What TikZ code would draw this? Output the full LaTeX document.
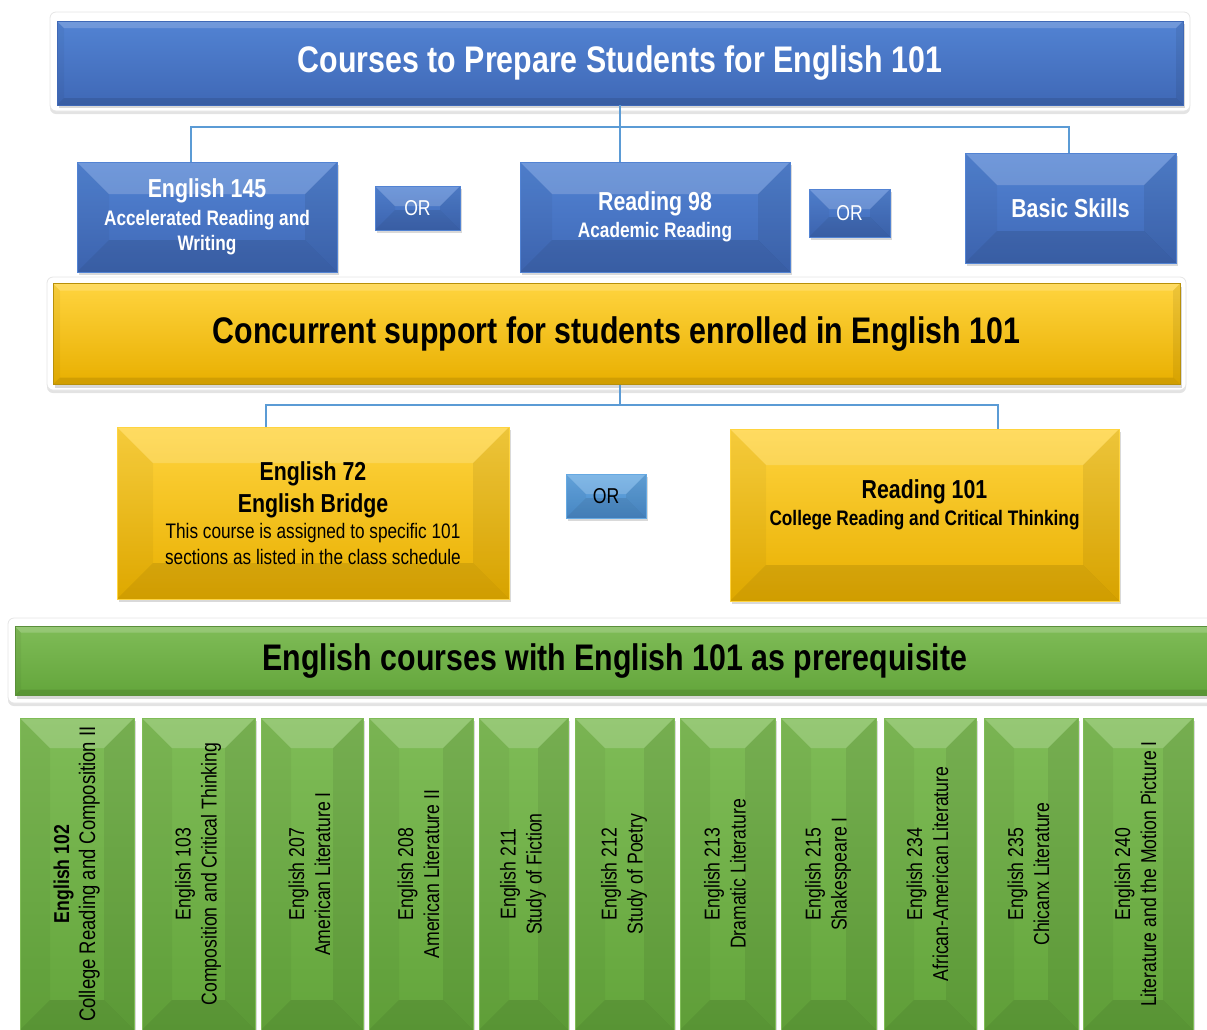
\documentclass[tikz,border=0pt]{standalone}
\usepackage{fontspec}
\setmainfont[FakeStretch=0.82]{Liberation Sans}
\usetikzlibrary{shadows}

\definecolor{skyline}{HTML}{5B9BD5}
\definecolor{blueA}{HTML}{5283D3}
\definecolor{blueB}{HTML}{3F68B6}
\definecolor{orA}{HTML}{66A9E2}
\definecolor{orB}{HTML}{4A8BCB}
\definecolor{goldA}{HTML}{FFD43F}
\definecolor{goldB}{HTML}{E8AF00}
\definecolor{goldedge}{HTML}{B8900A}
\definecolor{leafA}{HTML}{7FBC57}
\definecolor{leafB}{HTML}{63A53B}
\definecolor{leafedge}{HTML}{5A8F3A}

\newcommand{\headfont}{\fontsize{37}{42}\selectfont\bfseries}
\newcommand{\namefont}{\fontsize{26}{30}\selectfont\bfseries}
\newcommand{\subfont}{\fontsize{21}{25}\selectfont}
\newcommand{\orfont}{\fontsize{21.5}{25}\selectfont}
\newcommand{\vfont}{\fontsize{21.5}{26}\selectfont}

\begin{document}
\begin{tikzpicture}[x=1pt, y=1pt, thick]
    \tikzset{bevel/.style={path picture={
      \path (path picture bounding box.north west) coordinate (bnw)
            (path picture bounding box.north east) coordinate (bne)
            (path picture bounding box.south west) coordinate (bsw)
            (path picture bounding box.south east) coordinate (bse);
      \fill[white, opacity=.18] (bnw) -- (bne) -- ([shift={(-#1,-#1)}]bne) -- ([shift={(#1,-#1)}]bnw) -- cycle;
      \fill[black, opacity=.1] (bsw) -- (bse) -- ([shift={(-#1,#1)}]bse) -- ([shift={(#1,#1)}]bsw) -- cycle;
      \fill[black, opacity=.04] (bnw) -- (bsw) -- ([shift={(#1,#1)}]bsw) -- ([shift={(#1,-#1)}]bnw) -- cycle;
      \fill[black, opacity=.07] (bne) -- (bse) -- ([shift={(-#1,#1)}]bse) -- ([shift={(-#1,-#1)}]bne) -- cycle;
    }}}
    \tikzstyle{frame}=[rectangle, rounded corners=6pt, fill=white, draw=gray!20,
                       drop shadow={opacity=.22, shadow xshift=0pt, shadow yshift=-3pt}]
    \tikzstyle{box}=[rectangle, inner sep=0pt, align=center, line width=.6pt, font=\subfont,
                     drop shadow={opacity=.3, shadow xshift=2pt, shadow yshift=-3pt}]
    \tikzstyle{bluebox}=[box, draw=blueA, top color=blueA, bottom color=blueB, text=white, bevel=32]
    \tikzstyle{orbox}=[box, draw=blueA, top color=blueA, bottom color=blueB, text=white, bevel=20]
    \tikzstyle{goldbox}=[box, draw=goldA, top color=goldA, bottom color=goldB, text=black, bevel=36]
    \tikzstyle{leafbox}=[box, draw=leafA, top color=leafA, bottom color=leafB, text=black, bevel=30]
    \tikzstyle{link}=[draw=skyline, line width=2pt]

    \useasboundingbox (0,0) rectangle (1207,-1029);
    \clip (0,0) rectangle (1207,-1029);

    \node[frame, minimum width=1140, minimum height=99] (topframe) at (620,-61.5) {};
    \node[box, draw=blueB, top color=blueA, bottom color=blueB, text=white, bevel=7,
          minimum width=1126, minimum height=84] (top) at (620,-63)
          {\headfont Courses to Prepare Students for English 101};

    \node[bluebox, minimum width=260, minimum height=110] (E145) at (207,-217)
          {\namefont English 145\\[3pt]\subfont\bfseries Accelerated Reading and\\\subfont\bfseries Writing};
    \node[orbox, minimum width=85, minimum height=44] (or1) at (417.5,-208) {\orfont OR};
    \node[bluebox, minimum width=270, minimum height=110] (R98) at (655,-217)
          {\namefont Reading 98\\[2pt]\subfont\bfseries Academic Reading};
    \node[orbox, minimum width=81, minimum height=48] (or2) at (849.5,-213) {\orfont OR};
    \node[bluebox, minimum width=211, minimum height=110] (BS) at (1070.5,-208)
          {\namefont Basic Skills};

    \coordinate (hubA) at (620,-127);
    \draw[link] (top.south) -- (top.south |- R98.north);
    \draw[link] ([xshift=-16]E145.north) |- (hubA) -| ([xshift=-1.5]BS.north);

    \node[frame, minimum width=1139, minimum height=113] (midframe) at (616.5,-333.5) {};
    \node[box, draw=goldedge, top color=goldA, bottom color=goldB, text=black, bevel=7,
          minimum width=1127, minimum height=101] (conc) at (616.5,-334)
          {\headfont Concurrent support for students enrolled in English 101};

    \node[goldbox, minimum width=392, minimum height=172] (E72) at (313,-513)
          {\namefont English 72\\[7pt]\namefont English Bridge\\[1pt]\subfont This course is assigned to specific 101\\[1pt]\subfont sections as listed in the class schedule};
    \node[box, draw=orA, top color=orA, bottom color=orB, text=black, bevel=20,
          minimum width=80, minimum height=44] (or3) at (606,-496) {\orfont OR};
    \node[goldbox, minimum width=389, minimum height=172] (R101) at (924.5,-515)
          {\namefont Reading 101\\[2pt]\subfont\bfseries College Reading and Critical Thinking\\\mbox{}};

    \coordinate (hubB) at (620,-405);
    \draw[link] (hubB |- conc.south) -- (hubB);
    \draw[link] ([xshift=-47]E72.north) |- (hubB) -| ([xshift=73.5]R101.north);

    \node[frame, minimum width=1214, minimum height=85] (lowframe) at (615,-660.5) {};
    \node[box, draw=leafedge, top color=leafA, bottom color=leafB, text=black, bevel=6,
          minimum width=1200, minimum height=69] (prereq) at (615,-661)
          {\headfont English courses with English 101 as prerequisite};

    \foreach \lft/\rgt/\cnum/\ctitle/\cname in {
        20/134/{\textbf{English 102}}/{\fontsize{22.5}{26}\selectfont College Reading and Composition II}/eng102,
        142/255/English 103/Composition and Critical Thinking/eng103,
        261/363/English 207/American Literature I/eng207,
        369/473/English 208/American Literature II/eng208,
        479/568/English 211/Study of Fiction/eng211,
        575/674/English 212/Study of Poetry/eng212,
        680/775/English 213/Dramatic Literature/eng213,
        781/876/English 215/Shakespeare I/eng215,
        884/976/English 234/African-American Literature/eng234,
        984/1078/English 235/Chicanx Literature/eng235,
        1083/1193/English 240/Literature and the Motion Picture I/eng240}
      \node[leafbox, minimum width={\rgt-\lft}, minimum height=312] (\cname) at ({(\lft+\rgt)/2},-874)
            {\rotatebox{90}{\vfont\begin{tabular}{@{}c@{}}\cnum\\\ctitle\end{tabular}}};
\end{tikzpicture}
\end{document}
